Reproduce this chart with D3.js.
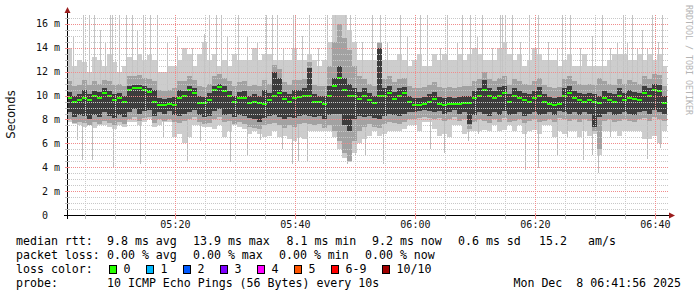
<!DOCTYPE html>
<html>
<head>
<meta charset="utf-8">
<script src="https://cdn.jsdelivr.net/npm/d3@7"></script>
<style>
  html, body { margin: 0; padding: 0; background: #fff; }
  svg { display: block; }
  text { font-family: "DejaVu Sans Mono", monospace; white-space: pre; }
</style>
</head>
<body>
<div id="chart"></div>
<script>
// smoke columns, one every 50 s starting 05:01:56, values in ms
var median = [9.8,9.5,9.6,9.8,9.6,10.0,9.8,10.2,10.0,9.6, 9.8,9.5,10.5,10.6,10.6,10.5,10.3,9.5,9.2,9.2,
  9.3,9.2,9.8,10.0,10.5,10.2,9.4,9.4,9.6,10.5, 10.7,10.4,10.0,9.5,9.8,9.8,9.4,9.5,9.4,9.3,
  9.6,10.0,10.2,9.7,9.5,9.8,9.9,10.0,10.0,9.5, 9.5,9.3,10.0,10.8,11.5,10.5,10.0,10.0,9.7,10.0,
  9.6,9.4,10.0,10.0,10.2,9.7,10.0,10.2,9.5,9.2, 9.2,9.3,9.5,9.7,9.3,9.2,9.3,9.3,9.3,9.4,
  9.4,9.8,10.0,10.5,10.0,9.8,10.0,10.2,9.5,10.0, 9.8,9.6,9.5,9.8,10.0,9.5,9.3,9.2,9.3,10.0,
  10.2,9.8,9.6,9.5,9.6,9.5,9.4,9.8,9.6,9.5, 10.0,9.6,9.8,9.7,9.6,10.2,10.0,10.5,10.4,9.4];

var darkLo = [8.6,8.2,8.4,8.3,8.0,8.4,8.2,8.6,8.3,8.1, 8.4,8.2,8.6,8.9,8.5,8.7,8.8,8.3,8.6,8.5,
  8.7,8.4,8.3,8.5,8.6,8.8,8.4,8.2,8.3,8.7, 8.9,8.4,8.5,8.2,8.4,8.3,8.1,8.0,7.8,8.1,
  8.3,8.4,8.2,8.0,8.2,8.1,8.3,8.4,8.3,8.2, 8.3,8.0,8.4,8.5,8.5,7.5,7.0,8.0,8.3,8.2,
  8.3,8.1,8.0,8.3,8.5,8.4,8.3,8.5,8.6,8.6, 8.7,8.8,8.7,8.6,8.7,8.5,8.6,8.8,8.5,8.6,
  7.6,8.4,8.6,8.5,8.3,8.6,8.4,8.7,8.4,8.5, 8.6,8.3,8.5,8.6,8.4,8.5,8.6,8.4,8.7,8.6,
  8.5,8.6,8.4,8.6,8.5,7.4,8.2,8.5,8.6,8.4, 8.5,8.6,8.5,8.4,8.6,8.7,8.5,8.8,8.6,8.5];

var darkHi = [10.3,10.0,10.1,10.5,10.1,10.4,10.3,10.6,10.4,10.1, 10.2,10.0,10.8,10.9,10.9,10.8,10.6,10.5,9.8,9.7,
  9.8,9.9,10.5,10.4,10.8,10.6,10.0,9.9,10.2,10.8, 11.0,10.8,10.4,10.0,10.3,10.4,10.0,10.1,10.0,10.5,
  10.2,12.0,11.5,10.3,10.1,10.5,10.5,10.6,12.3,10.1, 10.0,10.0,10.8,11.5,12.5,11.5,11.0,10.6,10.3,10.6,
  10.2,10.0,14.0,10.6,10.8,10.3,10.6,10.7,10.0,9.8, 9.8,9.9,10.1,10.3,9.9,9.8,9.9,9.8,9.9,10.0,
  10.0,10.4,10.6,11.3,10.6,10.4,10.7,10.8,10.1,10.6, 10.4,10.2,10.1,10.4,10.7,10.1,9.9,9.8,9.9,10.6,
  10.8,10.4,10.2,10.1,10.2,10.1,10.0,10.4,10.2,10.1, 10.6,10.2,10.5,10.3,10.2,10.8,10.6,11.0,10.9,10.0];

var midLo = [8.0,7.7,7.8,7.7,7.5,7.8,7.6,7.9,7.7,7.5, 7.8,7.6,8.0,8.2,7.9,8.1,8.2,7.7,8.0,7.9,
  8.0,7.8,7.7,7.9,8.0,8.2,7.8,7.6,7.7,8.0, 8.2,7.8,7.9,7.6,7.8,7.6,7.4,7.3,7.2,7.5,
  7.6,7.7,7.5,7.3,7.5,7.4,7.6,7.7,7.6,7.5, 7.6,7.3,7.5,7.0,6.2,5.2,4.5,6.2,7.0,7.4,
  7.6,7.4,7.3,7.6,7.8,7.7,7.6,7.8,8.0,8.0, 8.1,8.2,8.1,8.0,8.1,7.9,8.0,8.2,7.9,8.0,
  7.2,7.8,8.0,7.9,7.7,8.0,7.8,8.1,7.8,7.9, 8.0,7.7,7.9,8.0,7.8,7.9,8.0,7.8,8.1,8.0,
  7.9,8.0,7.8,8.0,7.9,7.0,5.5,7.9,8.0,7.8, 7.9,8.0,7.9,7.8,8.0,8.1,7.9,8.2,8.0,7.9];

var midHi = [11.2,10.8,10.9,11.3,10.9,11.2,11.0,11.3,11.2,10.9, 11.0,10.8,11.6,11.6,11.7,11.5,11.4,11.2,10.5,10.4,
  10.5,10.6,11.2,11.2,11.6,11.3,10.8,10.7,11.0,11.6, 11.8,11.5,11.2,10.8,11.1,11.2,10.8,10.9,10.8,11.3,
  11.0,12.6,12.2,11.1,10.9,11.3,11.3,11.4,12.8,10.9, 10.8,10.8,12.5,14.5,16.0,14.8,13.8,12.5,11.6,11.4,
  11.0,10.8,14.4,11.4,11.6,11.1,11.4,11.5,10.8,10.6, 10.6,10.7,10.9,11.1,10.7,10.6,10.7,10.6,10.7,10.8,
  10.8,11.2,11.4,12.0,11.4,11.2,11.5,11.6,10.9,11.4, 11.2,11.0,10.9,11.2,11.5,10.9,10.7,10.6,10.7,11.4,
  11.6,11.2,11.0,10.9,11.0,10.9,11.5,11.2,11.0,10.9, 11.4,11.0,11.3,11.1,11.0,11.6,11.4,11.8,11.7,10.8];

var lightLo = [7.8,7.6,7.5,7.4,7.6,7.3,7.5,7.5,7.4,7.2, 7.5,7.4,7.8,7.8,7.5,7.8,8.0,7.4,7.5,7.8,
  7.8,6.5,6.8,6.0,6.5,7.5,7.5,7.4,7.4,7.2, 7.5,6.5,7.0,7.5,7.4,7.2,6.8,7.0,6.8,6.5,
  6.6,7.0,6.5,6.6,6.4,6.2,6.5,6.4,7.0,7.0, 7.0,7.0,7.0,6.5,5.5,4.8,4.4,5.2,6.0,6.4,
  6.6,7.0,6.6,6.8,7.0,7.0,7.0,7.2,7.5,7.5, 7.0,7.8,7.8,7.2,6.6,6.8,6.5,7.5,7.5,6.8,
  7.0,7.0,7.0,7.1,7.0,7.5,7.0,7.1,7.5,7.0, 7.5,6.8,7.0,7.1,6.8,7.5,7.5,6.5,7.0,6.8,
  7.0,7.0,6.5,7.0,6.6,6.8,5.0,7.0,7.0,7.0, 6.6,7.0,7.0,7.0,7.0,6.4,6.4,6.6,6.0,7.0];

var lightHi = [14.0,12.5,13.0,12.8,12.0,13.2,13.0,12.5,13.5,12.8, 12.0,12.5,13.2,13.0,13.5,13.0,13.4,13.0,12.0,12.0,
  12.5,12.5,13.0,14.0,13.5,12.5,13.5,14.5,13.0,13.5, 12.5,13.0,12.5,13.5,13.0,13.0,13.0,14.0,13.0,13.5,
  13.5,13.0,13.0,13.0,13.0,14.0,13.0,13.0,13.5,13.0, 12.5,13.0,14.5,16.75,16.75,16.75,15.5,14.5,13.0,13.0,
  13.0,13.0,14.5,13.0,13.0,13.0,13.5,13.0,12.5,13.0, 13.5,12.5,12.5,13.5,13.0,13.5,13.0,13.0,13.5,13.0,
  13.5,14.0,13.5,13.0,13.0,13.0,14.0,14.5,13.5,13.0, 13.5,12.5,13.0,14.0,13.5,13.0,13.0,13.0,12.5,13.0,
  13.5,12.5,12.5,13.5,12.5,12.5,12.5,12.5,13.0,13.5, 13.5,13.5,13.0,13.0,13.5,13.0,13.5,13.0,13.5,12.5];

// single outlier pings, seconds after 05:01:56
var upSpikeSec = [160,270,330,430,450,590,650,830,900,1370,1490,1540,1710,
  1800,1990,2050,2160,2260,2280,2420,2510,2780,2830,3130,3200,3330,3530,3730,3800,3900,4030,
  4150,4250,4330,4350,4380,4450,4530,4710,4810,4900,5030,5130,5430,5560,5600,5700,5800,5850,5910,5950,
  60,220,380,520,700,760,1000,1100,1250,1420,1600,1900,2100,2350,2600,2680,2950,3050,3400,3600,
  3950,4100,4620,4950,5250,5350,5500,5650,5750];
var upSpikeHi = [16.75,16.75,15.5,16.75,16.75,16.75,16.75,16.75,16.75,15.2,16.75,16.75,16.75,
  15.0,16.75,16.75,14.0,16.75,16.75,16.75,14.0,16.75,16.75,16.75,14.5,16.75,16.75,14.0,16.75,14.5,16.75,
  16.75,14.0,16.75,16.75,16.75,16.75,14.5,16.75,14.5,14.0,16.75,14.0,14.0,16.75,14.5,14.0,14.0,16.75,14.5,16.75,
  15.0,16.75,14.5,16.75,15.5,16.75,14.5,15.0,14.0,16.75,15.0,14.5,16.75,15.0,16.75,16.75,14.5,16.75,15.0,16.75,
  16.75,15.0,16.75,16.75,15.0,16.75,14.5,16.75,15.5];
var downSpikeSec = [100,150,250,460,730,960,1200,1330,1630,
  1800,1930,2150,2250,2310,2400,2800,2880,2980,3160,3630,3770,4010,
  4110,4580,4710,4900,5000,5160,5250,5310,5430,5800,5930];
var downSpikeLo = [6.3,4.6,4.6,4.0,4.3,6.5,4.5,6.2,4.4,
  4.9,6.3,5.5,4.3,4.5,4.5,4.3,5.0,4.9,4.3,5.5,5.2,6.2,
  6.8,3.8,3.9,4.9,6.5,4.6,5.0,3.5,6.5,4.7,5.6];

var yTicks = [0, 2, 4, 6, 8, 10, 12, 14, 16];
var rttLabel = "median rtt:";
var rttStats = ["9.8 ms avg", "13.9 ms max", "8.1 ms min", "9.2 ms now", "0.6 ms sd", "15.2", "am/s"];
var lossLabel = "packet loss:";
var lossStats = ["0.00 % avg", "0.00 % max", "0.00 % min", "0.00 % now"];
var lossNames = ["0", "1", "2", "3", "4", "5", "6-9", "10/10"];
var lossColors = ["#26ff00", "#00b8ff", "#0059ff", "#7e00ff", "#ff00ff", "#ff5500", "#ff0000", "#a10000"];
var probeText = "10 ICMP Echo Pings (56 Bytes) every 10s";
var stampText = "Mon Dec  8 06:41:56 2025";

var width = 697, height = 297;
var margin = {left: 67, top: 15, right: 30, bottom: 82};
var plotW = 600, plotH = 200;

var startTime = new Date(2025, 11, 8, 5, 1, 56);
var endTime = d3.timeMinute.offset(startTime, 100);
var step = 50;

var x = d3.scaleTime().domain([startTime, endTime]).range([margin.left, margin.left + plotW]);
var y = d3.scaleLinear().domain([0, 16.75]).range([margin.top + plotH, margin.top]);

var svg = d3.select('#chart').append('svg')
  .attr('width', width).attr('height', height);

svg.append('defs').append('clipPath').attr('id', 'plot')
  .append('rect').attr('x', margin.left).attr('y', margin.top)
  .attr('width', plotW).attr('height', plotH);

var smoke = svg.append('g').attr('clip-path', 'url(#plot)').attr('shape-rendering', 'crispEdges');

function colX(i) { return x(d3.timeSecond.offset(startTime, i * step)); }
function colW(i) { return colX(i + 1) - colX(i); }

function band(lo, hi, color) {
  smoke.append('g').selectAll('rect')
    .data(median)
    .enter().append('rect')
    .attr('x', function(d, i) { return colX(i); })
    .attr('width', function(d, i) { return colW(i); })
    .attr('y', function(d, i) { return y(hi[i]); })
    .attr('height', function(d, i) { return y(lo[i]) - y(hi[i]); })
    .attr('fill', color);
}

band(lightLo, lightHi, '#cdcdcd');

smoke.append('g').selectAll('rect')
  .data(upSpikeSec)
  .enter().append('rect')
  .attr('x', function(d) { return x(d3.timeSecond.offset(startTime, d)); })
  .attr('width', 1)
  .attr('y', function(d, i) { return y(upSpikeHi[i]); })
  .attr('height', function(d, i) { return y(10) - y(upSpikeHi[i]); })
  .attr('fill', '#c4c4c4');

smoke.append('g').selectAll('rect')
  .data(downSpikeSec)
  .enter().append('rect')
  .attr('x', function(d) { return x(d3.timeSecond.offset(startTime, d)); })
  .attr('width', 1)
  .attr('y', y(9))
  .attr('height', function(d, i) { return y(downSpikeLo[i]) - y(9); })
  .attr('fill', '#bdbdbd');

band(midLo, midHi, '#a2a2a2');
band(darkLo, darkHi, '#3c3c3c');

// median, coloured by loss (no loss here)
smoke.append('g').selectAll('rect')
  .data(median)
  .enter().append('rect')
  .attr('x', function(d, i) { return colX(i); })
  .attr('width', function(d, i) { return colW(i); })
  .attr('y', function(d) { return y(d) - 1; })
  .attr('height', 2)
  .attr('fill', lossColors[0]);

// grid on top of the graph, like rrdtool
var grid = svg.append('g').attr('shape-rendering', 'crispEdges').attr('stroke-dasharray', '1,1');
var minorY = d3.range(0.5, 16.75, 0.5).filter(function(v) { return v % 2 != 0; });
grid.selectAll('.hminor').data(minorY).enter().append('line')
  .attr('x1', margin.left).attr('x2', margin.left + plotW + 2)
  .attr('y1', function(d) { return Math.round(y(d)) + 0.5; })
  .attr('y2', function(d) { return Math.round(y(d)) + 0.5; })
  .attr('stroke', '#c8c8c8');
var minorX = x.ticks(d3.timeMinute.every(5)).filter(function(d) { return d.getMinutes() % 20 != 0; });
grid.selectAll('.vminor').data(minorX).enter().append('line')
  .attr('x1', function(d) { return Math.round(x(d)) + 0.5; })
  .attr('x2', function(d) { return Math.round(x(d)) + 0.5; })
  .attr('y1', margin.top).attr('y2', margin.top + plotH)
  .attr('stroke', '#c8c8c8');
grid.selectAll('.hmajor').data(yTicks.slice(1)).enter().append('line')
  .attr('x1', margin.left).attr('x2', margin.left + plotW + 2)
  .attr('y1', function(d) { return Math.round(y(d)) + 0.5; })
  .attr('y2', function(d) { return Math.round(y(d)) + 0.5; })
  .attr('stroke', '#f08c8c');
var majorX = x.ticks(d3.timeMinute.every(20));
grid.selectAll('.vmajor').data(majorX).enter().append('line')
  .attr('x1', function(d) { return Math.round(x(d)) + 0.5; })
  .attr('x2', function(d) { return Math.round(x(d)) + 0.5; })
  .attr('y1', margin.top).attr('y2', margin.top + plotH)
  .attr('stroke', '#f08c8c');

// axes
var axes = svg.append('g').attr('shape-rendering', 'crispEdges');
var x0 = margin.left + 0.5, y0 = margin.top + plotH + 0.5;
axes.append('line').attr('x1', x0 - 4).attr('x2', margin.left + plotW + 3)
  .attr('y1', y0).attr('y2', y0).attr('stroke', '#000');
axes.append('line').attr('x1', x0).attr('x2', x0)
  .attr('y1', y0 + 3).attr('y2', margin.top - 3).attr('stroke', '#000');
axes.selectAll('.xt').data(minorX.concat(majorX)).enter().append('line')
  .attr('x1', function(d) { return Math.round(x(d)) + 0.5; })
  .attr('x2', function(d) { return Math.round(x(d)) + 0.5; })
  .attr('y1', y0 - 2).attr('y2', y0 + 3)
  .attr('stroke', function(d) { return d.getMinutes() % 20 ? '#bbbbbb' : '#f08c8c'; });
axes.selectAll('.yt').data(minorY.concat(yTicks.slice(1))).enter().append('line')
  .attr('x1', x0 - 3).attr('x2', x0 + 2)
  .attr('y1', function(d) { return Math.round(y(d)) + 0.5; })
  .attr('y2', function(d) { return Math.round(y(d)) + 0.5; })
  .attr('stroke', function(d) { return d % 2 ? '#bbbbbb' : '#f08c8c'; });

svg.append('path')
  .attr('d', 'M' + (x0 - 3) + ',' + (margin.top - 2) + 'L' + (x0 + 3) + ',' + (margin.top - 2) + 'L' + x0 + ',' + (margin.top - 8) + 'Z')
  .attr('fill', '#9a1c1c');
var xe = margin.left + plotW + 2;
svg.append('path')
  .attr('d', 'M' + xe + ',' + (y0 - 3) + 'L' + xe + ',' + (y0 + 3) + 'L' + (xe + 6) + ',' + y0 + 'Z')
  .attr('fill', '#9a1c1c');

// tick labels
svg.append('g').selectAll('text').data(yTicks).enter().append('text')
  .attr('x', 60).attr('y', function(d) { return y(d) + 3.5; })
  .attr('text-anchor', 'end').attr('font-size', '10px').attr('fill', '#111')
  .text(function(d) { return d ? d + ' m' : '0  '; });

var fmt = d3.timeFormat('%H:%M');
svg.append('g').selectAll('text').data(majorX).enter().append('text')
  .attr('x', function(d) { return x(d); }).attr('y', 228)
  .attr('text-anchor', 'middle').attr('font-size', '10px').attr('fill', '#111')
  .text(fmt);

svg.append('text')
  .attr('transform', 'translate(15,114.5) rotate(-90)')
  .attr('text-anchor', 'middle')
  .style('font-family', '"DejaVu Sans", sans-serif')
  .attr('font-size', '11.5px').attr('fill', '#111')
  .text('Seconds');

svg.append('text')
  .attr('transform', 'translate(686,5) rotate(90)')
  .attr('font-size', '8.3px').attr('fill', '#b4b4b4')
  .text('RRDTOOL / TOBI OETIKER');

// legend
var legend = svg.append('g').attr('font-size', '11.6px').attr('fill', '#000');
function line(items, xs, yy) {
  legend.append('g').selectAll('text').data(items).enter().append('text')
    .attr('x', function(d, i) { return xs[i]; }).attr('y', yy)
    .text(function(d) { return d; });
}
line([rttLabel].concat(rttStats), [16, 107, 193, 286.5, 372, 458, 539, 588], 245);
line([lossLabel].concat(lossStats), [16, 107, 193, 279, 365], 259);
line(['loss color:'], [16], 273);
line(['probe:', probeText], [16, 107], 287);
legend.append('text').attr('x', 681).attr('y', 287).attr('text-anchor', 'end').text(stampText);

var bx = 109;
lossNames.forEach(function(name, i) {
  legend.append('rect').attr('x', bx + 0.5).attr('y', 265.5).attr('width', 7).attr('height', 8)
    .attr('fill', lossColors[i]).attr('stroke', '#000').attr('stroke-width', 1)
    .attr('shape-rendering', 'crispEdges');
  legend.append('text').attr('x', bx + 14.5).attr('y', 273).text(name);
  bx = bx + 14.5 + 7 * name.length + 15.5;
});
</script>
</body>
</html>
